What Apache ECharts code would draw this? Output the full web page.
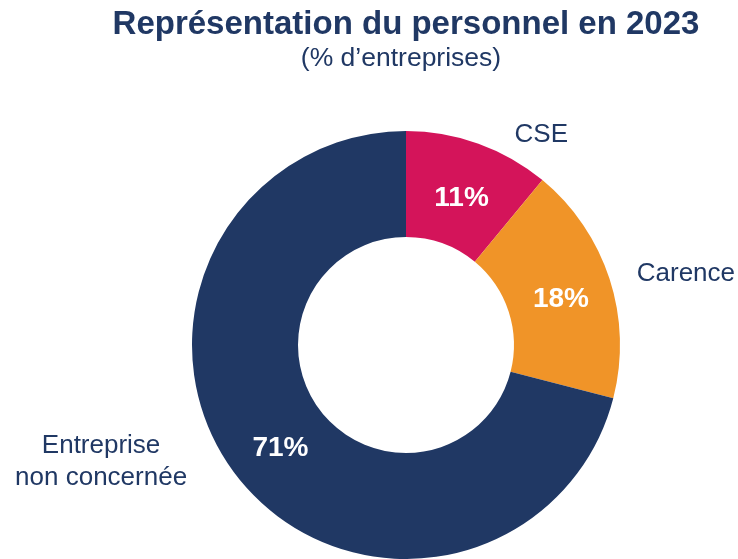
<!DOCTYPE html>
<html>
<head>
<meta charset="utf-8">
<script src="https://cdn.jsdelivr.net/npm/echarts@6/dist/echarts.min.js"></script>
<style>html,body{margin:0;padding:0;background:#fff}#chart{width:738px;height:559px}</style>
</head>
<body>
<div id="chart"></div>
<script>
const titleText = 'Représentation du personnel en 2023';
const subtitleText = '(% d\u2019entreprises)';
const categories = ['CSE', 'Carence', 'Entreprise\nnon concernée'];
const values = [11, 18, 71];
const colors = ['#D4145A', '#F09428', '#203864'];

const navy = '#203864';
const font = '"Liberation Sans", Arial, sans-serif';

// outside label placement tweaks (label line hidden)
const labelLines = [
  { length: 9, length2: 28 },
  { length: 16, length2: 7 },
  { length: -23, length2: 62 }
];
// small nudges of the inside percentage labels
const insideNudge = [[0, 8], [-1, 5], [4, 3]];

const chart = echarts.init(document.getElementById('chart'));
chart.setOption({
  animation: false,
  backgroundColor: '#fff',
  title: [
    {
      text: titleText,
      left: 401,
      top: 3,
      textAlign: 'center',
      textStyle: { fontFamily: font, fontSize: 33, fontWeight: 'bold', color: navy }
    },
    {
      text: subtitleText,
      left: 396,
      top: 40,
      textAlign: 'center',
      textStyle: { fontFamily: font, fontSize: 26.5, fontWeight: 'normal', color: navy }
    }
  ],
  series: [
    {
      type: 'pie',
      center: [406, 345],
      radius: [108, 214],
      startAngle: 90,
      clockwise: true,
      silent: true,
      label: {
        show: true,
        position: 'inside',
        formatter: p => p.value + '%',
        color: '#fff',
        fontFamily: font,
        fontSize: 28,
        fontWeight: 'bold'
      },
      labelLayout: p => ({ dx: insideNudge[p.dataIndex][0], dy: insideNudge[p.dataIndex][1] }),
      labelLine: { show: false },
      itemStyle: { borderWidth: 0 },
      data: categories.map((c, i) => ({ name: c, value: values[i], itemStyle: { color: colors[i] } }))
    },
    {
      type: 'pie',
      center: [406, 345],
      radius: [108, 214],
      startAngle: 90,
      clockwise: true,
      silent: true,
      avoidLabelOverlap: false,
      label: {
        show: true,
        position: 'outside',
        formatter: p => p.name.split('\n').map(s => '{t|' + s + '}').join('\n'),
        color: navy,
        fontFamily: font,
        fontSize: 26,
        lineHeight: 32,
        distanceToLabelLine: 5,
        rich: {
          t: { fontFamily: font, fontSize: 26, lineHeight: 32, color: navy }
        }
      },
      labelLine: { show: false },
      itemStyle: { color: 'rgba(0,0,0,0)', borderWidth: 0 },
      data: categories.map((c, i) => ({
        name: c,
        value: values[i],
        labelLine: { show: false, length: labelLines[i].length, length2: labelLines[i].length2 },
        label: i === 2 ? {
          rich: { t: { fontFamily: font, fontSize: 26, lineHeight: 32, color: navy, width: 174, align: 'center' } }
        } : {}
      }))
    }
  ]
});
</script>
</body>
</html>
